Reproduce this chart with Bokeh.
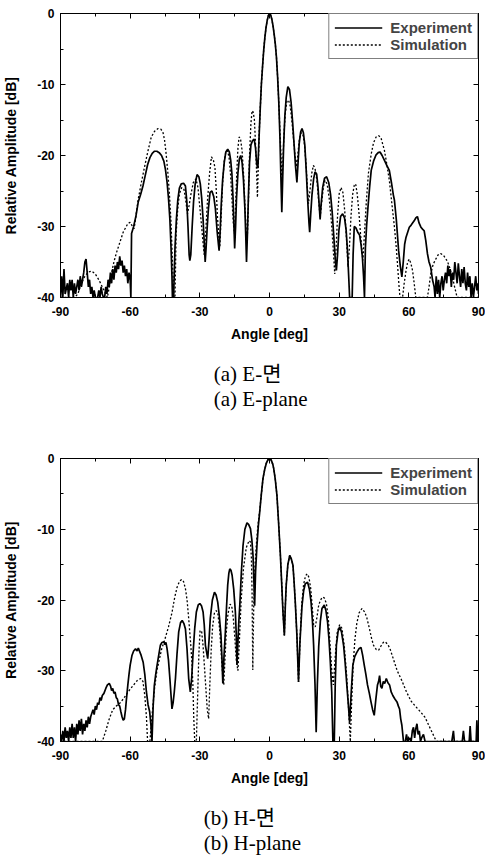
from bokeh.plotting import figure
from bokeh.models import LinearAxis, FixedTicker, Range1d, CustomLabelingPolicy
from bokeh.core.properties import value
from bokeh.layouts import column
from bokeh.embed import file_html
from bokeh.resources import INLINE

# ---------------- data (angle [deg], relative amplitude [dB]) ----------------
x_major = [-90, -60, -30, 0, 30, 60, 90]
x_minor = [-75, -45, -15, 15, 45, 75]
x_labels = ["-90", "-60", "-30", "0", "30", "60", "90"]
y_major = [-40, -30, -20, -10, 0]
y_minor = [-35, -25, -15, -5]
y_labels = ["-40", "-30", "-20", "-10", "0"]

series_names = ["Experiment", "Simulation"]
captions_a = ["(a) E-면", "(a) E-plane"]
captions_b = ["(b) H-면", "(b) H-plane"]
x_title = "Angle [deg]"
y_title = "Relative Amplitude [dB]"

e_exp = [(-90, -40), (-89.5, -37), (-89, -40), (-88.5, -36), (-88, -39.5), (-87, -38), (-86.5, -40), (-86, -37.5),
         (-85.5, -39), (-85, -37.5), (-84.5, -40), (-84, -38), (-83.5, -39.5), (-83, -38.5), (-82.5, -37.5), (-82, -39),
         (-81.5, -37), (-81, -38.5), (-80.5, -37.5), (-80, -36.5), (-79.5, -35), (-79, -34.6), (-78.5, -36.5), (-78, -38.5),
         (-77.5, -37.5), (-77, -39.5), (-76.5, -38.5), (-76, -40), (-75.5, -39), (-75, -40), (-74, -40), (-73.5, -39),
         (-73, -40), (-72.5, -38.5), (-72, -39.5), (-71.5, -40), (-71, -40), (-70.5, -38.5), (-70, -39.5), (-69.5, -37.5),
         (-69, -38.5), (-68.5, -36.5), (-68, -38), (-67.5, -36), (-67, -37.5), (-66.5, -35.5), (-66, -36.5), (-65.5, -35),
         (-65, -36), (-64.5, -34.2), (-64, -35.5), (-63.5, -34.8), (-63, -36.5), (-62.5, -35.5), (-62, -37), (-61.5, -36),
         (-61, -38), (-60.5, -36.5), (-60, -37.5), (-59.7, -40), (-59.4, -31), (-58.5, -30), (-57.5, -28.5), (-56.5, -26.5),
         (-55.5, -25.5), (-54.5, -24.3), (-53.5, -22.8), (-52.5, -21.3), (-51.5, -20.3), (-50.5, -19.7), (-49.5, -19.4),
         (-48.5, -19.4), (-47.5, -19.6), (-46.5, -20), (-45.5, -20.8), (-44.8, -22), (-44.1, -23.8), (-43.5, -26),
         (-42.9, -29), (-42.4, -33), (-42, -37), (-41.8, -40), (-41.3, -40), (-40.7, -33), (-40.1, -29), (-39.5, -26.3),
         (-38.8, -24.6), (-38, -24), (-37, -23.9), (-36.2, -24.3), (-35.6, -26.5), (-35.1, -30), (-34.6, -34), (-34.3, -34.8),
         (-33.9, -34), (-33.3, -30), (-32.7, -26.5), (-32, -24), (-31.2, -22.7), (-30.4, -23), (-29.8, -24), (-29.2, -26),
         (-28.6, -29), (-28, -33), (-27.7, -35), (-27.3, -33), (-26.8, -30), (-26.3, -27.5), (-25.6, -25.2), (-24.8, -25),
         (-24, -25.8), (-23.3, -27.5), (-22.6, -30.5), (-22, -32.5), (-21.7, -33.4), (-21.3, -31), (-20.8, -27),
         (-20.2, -23.5), (-19.5, -21), (-18.8, -19.5), (-18, -19.1), (-17.3, -19.5), (-16.7, -20.7), (-16.2, -22.5),
         (-15.7, -26), (-15.3, -30), (-15, -33.1), (-14.6, -30), (-14.2, -26), (-13.6, -22.5), (-13, -20.5), (-12.4, -20),
         (-11.8, -21), (-11.2, -23.5), (-10.6, -27.5), (-10.2, -31.5), (-9.9, -35), (-9.5, -31), (-9.1, -26), (-8.6, -21),
         (-8, -18.5), (-7.3, -17.9), (-6.6, -17.7), (-6, -19), (-5.5, -21.2), (-5, -21.8), (-4.5, -17.5), (-4, -13.5),
         (-3.5, -10), (-3, -7.5), (-2.5, -5.2), (-2, -3.4), (-1.5, -2), (-1, -1), (-0.5, -0.3), (0, 0), (0.5, -0.2),
         (1, -0.8), (1.5, -1.7), (2, -2.9), (2.5, -4.3), (3, -6.2), (3.5, -9), (4, -12.5), (4.5, -17.5), (4.9, -23),
         (5.3, -28), (5.7, -23), (6.1, -18.5), (6.6, -14.5), (7.2, -11.8), (7.9, -10.3), (8.6, -10.7), (9.3, -12.5),
         (10, -15.5), (10.6, -18.5), (11.2, -21.5), (11.8, -23.8), (12.3, -21), (12.8, -18.3), (13.4, -16.7), (14, -16.2),
         (14.6, -16.8), (15.2, -18.5), (15.8, -22), (16.4, -26), (17, -29.5), (17.3, -30.8), (17.7, -28.5), (18.3, -25.5),
         (19, -23.3), (19.6, -22.3), (20.3, -22.6), (20.9, -24.5), (21.5, -27.5), (21.8, -29), (22.2, -27), (22.9, -24.5),
         (23.7, -23.2), (24.6, -23), (25.5, -23.8), (26.3, -25.5), (27, -28), (27.7, -31.5), (28.3, -34.5), (28.8, -36.2),
         (29.3, -34), (29.9, -30.5), (30.6, -28.6), (31.5, -28.2), (32.3, -28.8), (33, -30.5), (33.6, -33.5), (34.1, -37),
         (34.5, -40), (35.6, -40), (36, -34), (36.5, -30), (37.2, -30.2), (38, -30.8), (38.8, -31.2), (39.4, -32.5),
         (40, -34.3), (40.5, -37), (40.9, -40), (41.3, -33), (41.8, -30), (42.4, -27.3), (43.1, -24.5), (43.8, -22.1),
         (44.8, -20.8), (45.9, -19.9), (46.8, -19.6), (47.6, -19.5), (48.5, -20), (49.5, -20.7), (50.5, -21.4),
         (51.6, -22.1), (52.5, -23.8), (53.3, -25.5), (53.8, -26.3), (54.6, -29), (55.6, -33.4), (56.3, -35.5),
         (57, -37.1), (57.6, -35), (58.2, -32.5), (58.8, -31.5), (59.5, -30.8), (60.2, -30.1), (61, -29.8), (62.3, -29.2),
         (63, -28.8), (63.7, -28.6), (64.4, -29.5), (65.2, -30.1), (66, -30.4), (66.6, -30.6), (67.3, -32), (68, -33.8),
         (68.7, -35), (69.4, -35.7), (70.2, -37.5), (70.9, -38.5), (71.3, -40), (71.8, -37), (72.3, -39.5), (72.8, -37.5),
         (73.3, -40), (73.8, -38), (74.3, -37), (74.8, -39), (75.3, -37.5), (75.8, -36.5), (76.3, -38), (76.8, -35.5),
         (77.3, -37), (77.8, -36), (78.3, -38.5), (78.8, -36.5), (79.3, -37.5), (79.8, -35), (80.3, -36.5), (80.8, -38),
         (81.3, -35.2), (81.8, -37), (82.3, -38.5), (82.8, -36), (83.3, -38), (83.8, -35.7), (84.3, -38), (84.8, -39),
         (85.3, -36.5), (85.8, -38.5), (86.3, -37), (86.8, -40), (87.3, -38), (87.8, -40), (88.3, -38.5), (88.8, -37),
         (89.3, -39), (89.8, -38), (90, -39.5)]

e_sim = [(-90, -40), (-84, -40), (-82.5, -39.5), (-81, -38), (-79.5, -37), (-78, -36.4), (-76.5, -36.3), (-75, -36.7),
         (-73.5, -37.5), (-72, -38.5), (-70.5, -39.5), (-69.8, -40), (-69, -38.5), (-68, -36.5), (-67, -35), (-66, -33.8),
         (-65, -32.8), (-64, -31.8), (-63, -30.8), (-62, -30.2), (-61, -29.6), (-60, -29.4), (-59, -30), (-58.3, -30.3),
         (-57.5, -28.5), (-56.6, -26.3), (-55.3, -24), (-53.8, -21.6), (-52.3, -19.3), (-50.9, -17.4), (-49.5, -16.6),
         (-48, -16.2), (-46.8, -16.3), (-45.9, -16.7), (-45.2, -17.8), (-44.5, -19.8), (-43.8, -22.3), (-43.1, -25.4),
         (-42.4, -29.5), (-41.7, -35.7), (-41.2, -40), (-40.7, -40), (-40.2, -31), (-39.5, -27.5), (-38.8, -25.4),
         (-37.8, -24.5), (-36.8, -24.8), (-36, -26.5), (-35.3, -28.2), (-34.6, -27), (-33.8, -25.4), (-32.8, -23.8),
         (-31.7, -23.3), (-30.8, -24.5), (-30.3, -26.3), (-29.5, -29), (-28.7, -32), (-28.1, -34), (-27.5, -31),
         (-26.7, -26.3), (-25.8, -22.5), (-25, -20.2), (-24.2, -20.6), (-23.5, -21.7), (-22.9, -25), (-22.4, -28.7),
         (-21.8, -31.5), (-21.4, -32.9), (-20.8, -28.5), (-20.2, -24), (-19.5, -20.8), (-18.8, -19.5), (-18.1, -19.3),
         (-17.4, -20.3), (-16.8, -22.5), (-16.2, -26), (-15.6, -29.5), (-15.1, -31), (-14.6, -27), (-14.1, -22.5),
         (-13.6, -19), (-13.1, -17.4), (-12.5, -17.6), (-11.8, -19.3), (-11.1, -23), (-10.5, -27.5), (-10, -31),
         (-9.6, -32), (-9.1, -27), (-8.6, -20), (-8, -15.5), (-7.5, -13.7), (-7, -13.9), (-6.5, -15), (-6, -18.5),
         (-5.6, -22), (-5.2, -25.9), (-4.8, -21), (-4.4, -16.5), (-4, -13.5), (-3.5, -10), (-3, -7.5), (-2.5, -5.2),
         (-2, -3.4), (-1.5, -2), (-1, -1), (-0.5, -0.3), (0, 0), (0.5, -0.2), (1, -0.8), (1.5, -1.7), (2, -2.9),
         (2.5, -4.3), (3, -6.2), (3.5, -9), (4, -12.5), (4.5, -16.5), (5, -20.5), (5.4, -24), (5.8, -20.5), (6.3, -16.5),
         (6.9, -13.8), (7.5, -12.4), (8.2, -12.2), (8.9, -13), (9.6, -15), (10.3, -17.5), (11, -20), (11.7, -21.6),
         (12.3, -19.5), (12.9, -17.6), (13.6, -16.8), (14.3, -16.9), (15, -18.3), (15.7, -21), (16.3, -24.5),
         (16.8, -26.8), (17.4, -25), (18.2, -22.5), (18.9, -21.4), (19.6, -21.8), (20.4, -23.5), (21.2, -26.5),
         (21.8, -28.7), (22.5, -26.5), (23.2, -24.5), (23.9, -23.5), (24.8, -24), (25.7, -26), (26.7, -29.5),
         (27.5, -33.5), (28.1, -36.7), (28.7, -33), (29.3, -28.5), (30, -25.4), (30.8, -24.5), (31.6, -25.2),
         (32.4, -27.8), (33.1, -31.5), (33.8, -35.7), (34.4, -33), (35.1, -28.5), (35.8, -25.5), (36.5, -24.2),
         (37.1, -24), (37.8, -25.5), (38.5, -28), (39.3, -31.5), (40.2, -34.8), (40.9, -31), (41.7, -26.5),
         (42.6, -22.5), (43.8, -19.8), (44.8, -18.2), (45.9, -17.4), (47, -17.2), (48, -17.5), (49.5, -19.3),
         (50.5, -21.2), (51.6, -23.5), (52.7, -26.8), (53.8, -30.1), (54.6, -33), (55.2, -35.7), (55.8, -38.5),
         (56.2, -40), (57.3, -40), (58, -38), (58.8, -36.2), (59.5, -35), (60.2, -34.6), (60.9, -35.2), (61.6, -36.2),
         (62.3, -38), (63, -40), (68, -40), (68.7, -38.5), (69.4, -36.7), (70.5, -35.3), (71.6, -34.6), (72.6, -34),
         (73.7, -33.8), (75, -34.1), (76.6, -34.9), (77.6, -35.8), (78.7, -37), (79.7, -38.5), (80.8, -40), (90, -40)]

h_exp = [(-90, -39), (-89.5, -40), (-89, -38.5), (-88.5, -40), (-88, -38), (-87.5, -39.5), (-87, -38.5), (-86.5, -40),
         (-86, -38), (-85.5, -39.5), (-85, -37.5), (-84.5, -39.5), (-84, -38), (-83.5, -40), (-83, -37.5), (-82.5, -39),
         (-82, -37), (-81.5, -38.5), (-81, -36.8), (-80.5, -39), (-80, -37.5), (-79.5, -38.5), (-79, -37), (-78.5, -38),
         (-78, -36.5), (-77.5, -37.5), (-77, -36.5), (-76.5, -36), (-76, -35.5), (-75.5, -36.2), (-75, -35),
         (-74.5, -35.5), (-74, -34.5), (-73.5, -34.8), (-73, -33.8), (-72.5, -34.2), (-72, -33.5), (-71.3, -33.2),
         (-70.5, -32.5), (-69.8, -32), (-69, -31.8), (-68.4, -32.2), (-68, -32.8), (-67.5, -32.5), (-67, -33.2),
         (-66.5, -33), (-66, -33.8), (-65.5, -34), (-65, -34.8), (-64.5, -35), (-64, -35.8), (-63.5, -36.5), (-63, -37),
         (-62.5, -36.8), (-62, -35.5), (-61.6, -34), (-61, -32), (-60.5, -30.5), (-60, -29.2), (-59.2, -27.8),
         (-58.5, -27.2), (-57.7, -26.9), (-57, -27.2), (-56.5, -26.8), (-55.9, -27.3), (-55.3, -27.8), (-54.4, -28.8),
         (-53.7, -30.5), (-53, -33), (-52.3, -34.8), (-51.6, -35.8), (-51.1, -37.5), (-50.6, -40), (-50.1, -35),
         (-49.6, -32.1), (-49, -30.5), (-48.4, -29.2), (-47.7, -27.8), (-47, -26.4), (-46.3, -26), (-45.5, -25.9),
         (-45, -26.3), (-44.6, -26), (-44.1, -26.9), (-43.5, -28.5), (-42.9, -31.1), (-42.4, -33.5), (-42, -35.4),
         (-41.5, -34.5), (-41, -33), (-40.5, -31.1), (-39.8, -27.5), (-39.1, -24.5), (-38.3, -23.2), (-37.6, -22.9),
         (-36.9, -23.3), (-36.2, -24.1), (-35.5, -27), (-34.8, -31.1), (-34.1, -33), (-33.5, -31), (-32.9, -27.4),
         (-32.2, -24), (-31.5, -21.7), (-30.7, -20.7), (-30, -20.5), (-29.3, -20.8), (-28.6, -21.7), (-28.1, -23.5),
         (-27.6, -26.4), (-26.6, -28.3), (-26, -25.5), (-25.5, -22.6), (-24.6, -20), (-23.7, -18.9), (-23, -19.3),
         (-22.3, -20.3), (-21.6, -22.3), (-20.9, -25), (-20.5, -28), (-20.1, -31.8), (-19.6, -28), (-19, -24.5),
         (-18.5, -21), (-18, -17.9), (-17.5, -16.2), (-17.1, -15.6), (-16.6, -15.8), (-16.1, -16.5), (-15.4, -18.5),
         (-14.7, -21.7), (-14.3, -25), (-14, -29.2), (-13.6, -26), (-13.2, -23), (-12.8, -20.8), (-12.1, -16),
         (-11.4, -12.3), (-10.6, -10), (-9.7, -9.1), (-9, -9.3), (-8.2, -9.9), (-7.6, -11.5), (-7.1, -13.7),
         (-6.8, -16.5), (-6.4, -20.8), (-6, -16), (-5.4, -12.3), (-4.8, -9.5), (-4.2, -7.5), (-3.5, -5), (-2.8, -2.8),
         (-2.1, -1.6), (-1.4, -0.7), (-0.7, -0.2), (0, 0), (0.7, -0.2), (1.4, -0.8), (1.8, -1.4), (2.5, -3), (3.2, -5.2),
         (3.9, -9), (4.7, -13.7), (5.3, -18), (5.8, -21.7), (6.4, -25), (6.8, -21), (7.2, -17.9), (7.9, -15), (8.7, -13.7),
         (9.4, -14.2), (10.1, -15.1), (10.6, -17.5), (11.1, -20.3), (11.8, -25), (12.5, -31.6), (13.1, -26), (14, -20.8),
         (14.7, -18.7), (15.4, -17.7), (16.4, -17.5), (17.2, -18.5), (17.9, -20.3), (18.5, -23), (19, -26.4), (19.6, -32),
         (20.1, -38.7), (20.6, -32), (21.2, -26.5), (21.9, -23), (22.6, -21.2), (23.6, -20.7), (24.3, -21.5), (25, -23.1),
         (25.6, -25.5), (26.2, -28.8), (26.8, -33), (27.3, -40), (27.9, -40), (28.3, -32), (28.8, -26.4), (29.5, -24.5),
         (30.2, -23.8), (31, -24.5), (31.9, -26.4), (32.6, -29), (33.3, -32), (34, -35), (34.5, -37.3), (35.2, -33),
         (35.9, -29.2), (36.7, -28), (37.6, -27.4), (38.5, -26.9), (39.4, -26.7), (40.1, -27.8), (40.8, -29.2),
         (41.5, -30.5), (42.2, -32), (43, -33.2), (43.7, -34.4), (44.4, -35.5), (45.1, -36.3), (45.8, -34), (46.5, -32),
         (47, -31.5), (47.4, -30.7), (47.9, -32.2), (48.4, -32.5), (49, -31.5), (49.6, -31.8), (50.3, -31.1),
         (51, -31.7), (51.7, -32), (52.4, -33), (53.1, -33.5), (54, -34), (54.9, -34.4), (55.5, -35), (56, -35.4),
         (56.5, -36.8), (57, -37.7), (57.7, -40), (58.5, -40), (59, -39), (59.5, -40), (60.5, -39.5), (61, -40),
         (61.5, -38.5), (62, -38), (62.5, -39.5), (63, -38.2), (63.5, -37.5), (64, -39), (64.5, -38.5), (65, -40),
         (65.5, -39.5), (66.3, -39), (67, -40), (78.5, -40), (79.2, -38.5), (79.6, -40), (83, -40), (83.5, -38.5),
         (84, -40), (86, -40), (86.4, -37.8), (86.8, -40), (89, -40), (89.3, -37), (89.7, -40), (90, -40)]

h_sim = [(-90, -40), (-72, -40), (-70.5, -38.5), (-69, -36.8), (-67.5, -35.5), (-66, -35), (-64.5, -34.6), (-63, -34),
         (-61.5, -33.3), (-60, -32.6), (-58.5, -32), (-57, -31.4), (-55.5, -31.1), (-54.5, -31.5), (-53.7, -33.5),
         (-53, -36.5), (-52.5, -40), (-51.5, -40), (-50.5, -36), (-49.5, -32.5), (-48.5, -30), (-47.5, -28.5),
         (-46.5, -27), (-45, -25.5), (-43.5, -23.8), (-42, -21.8), (-40.8, -19.6), (-39.8, -18.2), (-38.8, -17.4),
         (-37.9, -17.1), (-37, -17.4), (-36.2, -18.4), (-35.5, -20), (-34.8, -22.6), (-34.1, -25.5), (-33.4, -28.8),
         (-33, -32), (-32.6, -36.8), (-32.2, -40), (-31.5, -40), (-30.9, -33), (-30.4, -27.5), (-29.9, -24.3),
         (-29.2, -24.5), (-28.6, -26.5), (-28, -29.5), (-27.3, -33), (-26.8, -35.5), (-26.2, -36.8), (-25.7, -32),
         (-25.1, -27), (-24.5, -23.8), (-23.7, -21.8), (-22.9, -21.5), (-22.2, -22), (-21.5, -24), (-20.8, -27.5),
         (-20.2, -30.5), (-19.7, -32), (-19.2, -28.5), (-18.6, -24.5), (-17.9, -22), (-17, -20.6), (-16.3, -20.8),
         (-15.6, -22.5), (-14.9, -25.5), (-14.3, -28.5), (-13.6, -30), (-13, -26), (-12.2, -20), (-11.2, -15.5),
         (-10, -12.6), (-8.8, -11.6), (-8.2, -11.8), (-7.8, -14), (-7.5, -19), (-7.2, -29.9), (-6.8, -21),
         (-6.3, -15.5), (-5.7, -12.3), (-5, -9.5), (-4.2, -7.3), (-3.5, -5), (-2.8, -2.8), (-2.1, -1.6), (-1.4, -0.7),
         (-0.7, -0.2), (0, 0), (0.7, -0.2), (1.4, -0.8), (1.8, -1.4), (2.5, -3), (3.2, -5.2), (3.9, -9), (4.7, -13.7),
         (5.3, -18), (5.8, -21.7), (6.4, -25), (6.8, -21), (7.2, -17.9), (7.9, -15), (8.7, -13.7), (9.4, -14.2),
         (10.1, -15.1), (10.6, -17.5), (11.1, -20.3), (11.8, -25), (12.5, -31.6), (13.1, -26), (13.9, -20.5),
         (14.7, -17.8), (15.5, -16.6), (16.2, -16.3), (17, -16.8), (17.8, -18.5), (18.4, -21), (19, -23.5),
         (19.7, -23.8), (20.4, -22.5), (21.2, -20.7), (22, -20), (22.8, -19.6), (23.6, -19.7), (24.5, -20.5),
         (25.3, -22.5), (26, -26), (26.8, -30), (27.5, -32), (28.3, -28), (29.2, -24.5), (30.2, -23.5), (31.2, -24),
         (32.2, -26.5), (33.2, -30.5), (34, -35), (34.8, -40), (35.3, -35), (36, -29.2), (36.8, -25.5), (37.6, -23.3),
         (38.6, -21.8), (39.8, -21.2), (41, -21.7), (41.9, -22.5), (43, -24), (44, -25.5), (44.8, -26.4), (46, -27),
         (47, -27.1), (48, -26.5), (49, -26), (49.8, -25.9), (51, -26.3), (52, -27), (53, -28), (55, -30),
         (57, -31.4), (59, -33), (61, -34.3), (62.8, -35), (65, -35.8), (67, -36.6), (69, -38), (71.3, -39.6),
         (72, -40), (90, -40)]

# ---------------- styling helpers ----------------
SANS = "Liberation Sans"
SERIF = "'Liberation Serif', 'Noto Sans CJK KR'"
PAGE_W = 485
FRAME_L, FRAME_R = 58, 478   # pixel extent of the plot frames (captions share it)

NO_LABELS_JS = """
try { for (const i of [...indices]) { indices.unset(i) } } catch (e) {
  try { indices.clear() } catch (e2) {}
}
return indices
"""


def style_axis(ax, ticks, minor, labels, show_labels=True):
    ax.ticker = FixedTicker(ticks=ticks, minor_ticks=minor)
    ax.major_label_overrides = {t: l for t, l in zip(ticks, labels)}
    ax.major_tick_in = 5
    ax.major_tick_out = 0
    ax.minor_tick_in = 3
    ax.minor_tick_out = 0
    ax.axis_line_color = "black"
    ax.major_tick_line_color = "black"
    ax.minor_tick_line_color = "black"
    ax.major_label_text_font = SANS
    ax.major_label_text_font_style = "bold"
    ax.major_label_text_color = "black"
    if show_labels:
        ax.major_label_text_font_size = "12px"
    else:
        ax.major_label_text_font_size = "0px"
        ax.major_label_standoff = 0
        ax.major_label_policy = CustomLabelingPolicy(code=NO_LABELS_JS)


def make_panel(exp, sim, height, border_top):
    p = figure(width=PAGE_W, height=height, x_range=Range1d(-90, 90), y_range=Range1d(-40, 0),
               output_backend="svg", toolbar_location=None,
               min_border_left=FRAME_L, min_border_right=PAGE_W - FRAME_R, min_border_top=border_top,
               min_border_bottom=53)
    p.xgrid.visible = False
    p.ygrid.visible = False
    p.outline_line_color = "black"
    p.outline_line_width = 1
    p.background_fill_color = "white"
    p.border_fill_color = "white"

    xa = p.xaxis[0]
    style_axis(xa, x_major, x_minor, x_labels)
    xa.major_label_standoff = 9
    xa.axis_label = x_title
    xa.axis_label_standoff = 7
    ya = p.yaxis[0]
    style_axis(ya, y_major, y_minor, y_labels)
    ya.major_label_standoff = 6
    ya.axis_label = y_title
    ya.axis_label_standoff = 15
    for ax in (xa, ya):
        ax.axis_label_text_font = SANS
        ax.axis_label_text_font_style = "bold"
        ax.axis_label_text_font_size = "14px"
        ax.axis_label_text_color = "black"

    top = LinearAxis()
    style_axis(top, x_major, x_minor, x_labels, show_labels=False)
    p.add_layout(top, "above")
    right = LinearAxis()
    style_axis(right, y_major, y_minor, y_labels, show_labels=False)
    p.add_layout(right, "right")

    p.line([a for a, _ in sim], [d for _, d in sim], line_color="black", line_width=1.3,
           line_dash="2 2", legend_label=series_names[1])
    p.line([a for a, _ in exp], [d for _, d in exp], line_color="black", line_width=1.7,
           legend_label=series_names[0])

    lg = p.legend[0]
    lg.items = [lg.items[1], lg.items[0]]
    lg.location = "top_right"
    lg.margin = 0
    lg.border_line_color = "black"
    lg.border_line_width = 1
    lg.background_fill_color = "white"
    lg.background_fill_alpha = 1
    lg.label_text_font = SANS
    lg.label_text_font_style = "bold"
    lg.label_text_font_size = "15px"
    lg.glyph_width = 48
    lg.glyph_height = 15
    lg.label_height = 15
    lg.label_standoff = 8
    lg.spacing = 0
    lg.padding = 5
    return p


def make_caption(lines, height, x_left, y_rows):
    # pixel-space canvas whose frame is aligned with the plot frames above it
    c = figure(width=PAGE_W, height=height, x_range=Range1d(FRAME_L, FRAME_R), y_range=Range1d(height, 0),
               x_axis_type=None, y_axis_type=None, output_backend="svg", toolbar_location=None,
               min_border_left=FRAME_L, min_border_right=PAGE_W - FRAME_R, min_border_top=0,
               min_border_bottom=0)
    c.outline_line_color = None
    c.background_fill_color = "white"
    c.border_fill_color = "white"
    c.text(x=[x_left] * len(lines), y=y_rows, text=lines, text_font=value(SERIF),
           text_font_size=value("21px"), text_baseline="middle", text_align="left", text_color="black")
    return c


p1 = make_panel(e_exp, e_sim, height=350, border_top=13)
cap1 = make_caption(captions_a, height=103, x_left=212, y_rows=[23, 48])
p2 = make_panel(h_exp, h_sim, height=341, border_top=5)
cap2 = make_caption(captions_b, height=64, x_left=202, y_rows=[23, 48])

layout = column(p1, cap1, p2, cap2, spacing=0)
open("out.html", "w").write(file_html(layout, INLINE))
